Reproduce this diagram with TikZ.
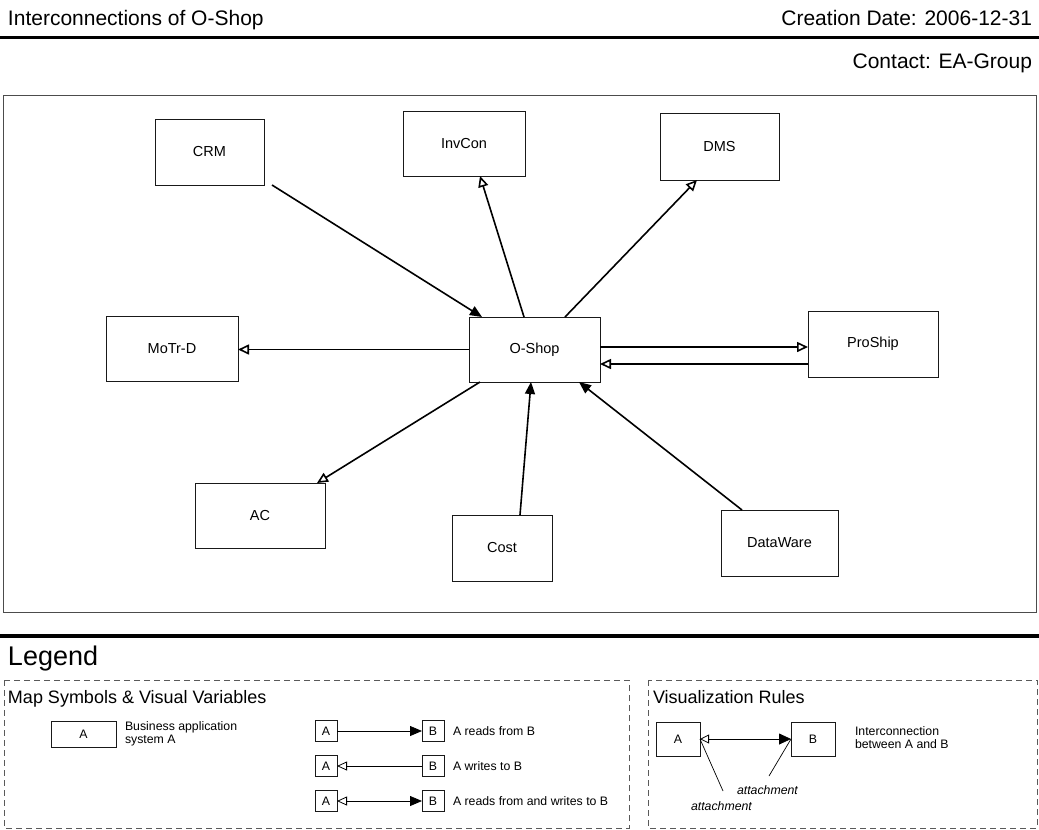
\documentclass[tikz,border=0pt]{standalone}
\usepackage{fontspec}
\setmainfont{Liberation Sans}
\usetikzlibrary{arrows.meta,calc}

\newcommand{\fs}[1]{\fontsize{#1}{#1}\selectfont}

\tikzset{
  sys/.style={draw=black!90, line width=0.8pt, fill=white, inner sep=0pt, outer sep=0pt,
              font=\fs{14.5}},
  lsys/.style={draw=black!90, line width=0.7pt, inner sep=0pt, outer sep=0pt, font=\fs{12.3}},
  conn/.style={line width=1.6pt, black},
  readsarrow/.style={conn, -{Triangle[length=12pt,width=10pt]}},
  writesarrow/.style={conn, -{Triangle[open,length=11pt,width=10pt]}},
  lconn/.style={line width=0.8pt, black},
  frame/.style={draw=black!70, line width=1pt},
  dashbox/.style={draw=black!65, line width=1pt, dash pattern=on 6pt off 4pt},
  txt/.style={inner sep=0pt, outer sep=0pt, anchor=base west},
}

\begin{document}
\begin{tikzpicture}[x=1pt, y=-1pt]
  \useasboundingbox (0,0) rectangle (1039,830);
  \fill[white] (0,0) rectangle (1039,830);

  % header
  \node[txt, font=\fs{21}] (title) at (8,25) {Interconnections of O-Shop};
  \node[txt, anchor=base east, font=\fs{21}] (date) at (1032,25) {Creation Date: 2006-12-31};
  \node[txt, anchor=base east, font=\fs{21}] (contact) at (1032,68) {Contact: EA-Group};
  \draw[line width=3pt] (0,37) -- (1039,37);

  % map frame
  \draw[frame] (3,95) rectangle (1036,612);

  % application systems
  \node[sys, minimum width=109, minimum height=66] (crm)      at (209.5,152)  {CRM};
  \node[sys, minimum width=122, minimum height=65] (invcon)   at (464,143.5)  {InvCon};
  \node[sys, minimum width=119, minimum height=67] (dms)      at (719.5,146.5){DMS};
  \node[sys, minimum width=132, minimum height=65] (motrd)    at (172,348.5)  {MoTr-D};
  \node[sys, minimum width=131, minimum height=65] (oshop)    at (534.5,349.5){O-Shop};
  \node[sys, minimum width=130, minimum height=66] (proship)  at (873,344)    {ProShip};
  \node[sys, minimum width=130, minimum height=65] (ac)       at (260,515.5)  {AC};
  \node[sys, minimum width=100, minimum height=66] (cost)     at (502,548)    {Cost};
  \node[sys, minimum width=117, minimum height=66] (dataware) at (779.5,543)  {DataWare};

  % interconnections
  \draw[readsarrow]  ([xshift=62.5pt]crm.south) -- ([xshift=13pt]oshop.north west);
  \draw[writesarrow] ([xshift=-10.5pt]oshop.north) -- ([xshift=16pt]invcon.south);
  \draw[writesarrow] ([xshift=30.5pt]oshop.north) -- ([xshift=-22.5pt]dms.south);
  \draw[writesarrow] (oshop.west) -- (oshop.west -| motrd.east);
  \draw[writesarrow] ([yshift=2.5pt]oshop.east) -- ([yshift=2.5pt]oshop.east -| proship.west);
  \draw[writesarrow] ([yshift=-14.5pt]oshop.east -| proship.west) -- ([yshift=-14.5pt]oshop.east);
  \draw[writesarrow] ([xshift=11pt]oshop.south west) -- ([xshift=-8pt]ac.north east);
  \draw[readsarrow]  ([xshift=18pt]cost.north) -- ([xshift=-3.5pt]oshop.south);
  \draw[readsarrow]  ([xshift=21pt]dataware.north west) -- ([xshift=-21pt]oshop.south east);

  % legend
  \draw[line width=4pt] (0,636) -- (1039,636);
  \node[txt, font=\fs{27}] (legend) at (8,665) {Legend};

  \draw[dashbox] (4,680) rectangle (629,828);
  \draw[dashbox] (648,680) rectangle (1037,828);

  \node[txt, font=\fs{18}] (symhead) at (8,703) {Map Symbols \& Visual Variables};
  \node[txt, font=\fs{18}] (rulehead) at (653,703) {Visualization Rules};

  % symbol: business application system
  \node[lsys, minimum width=65, minimum height=26] (la) at (83.5,734) {A};
  \node[txt, font=\fs{12.3}] (ltxt1) at (125,730) {Business application};
  \node[txt, font=\fs{12.3}] (ltxt2) at (125,743) {system A};

  % symbols: interconnection types
  \node[lsys, minimum width=22, minimum height=21] (ra1) at (326,731) {A};
  \node[lsys, minimum width=22, minimum height=21] (rb1) at (433,731) {B};
  \node[txt, font=\fs{12.3}] (rt1) at (453,735) {A reads from B};
  \draw[lconn, -{Triangle[length=12pt,width=10pt]}] (ra1) -- (rb1);

  \node[lsys, minimum width=22, minimum height=21] (ra2) at (326,766) {A};
  \node[lsys, minimum width=22, minimum height=21] (rb2) at (433,766) {B};
  \node[txt, font=\fs{12.3}] (rt2) at (453,770) {A writes to B};
  \draw[lconn, -{Triangle[open,length=10pt,width=9pt]}] (rb2) -- (ra2);

  \node[lsys, minimum width=22, minimum height=21] (ra3) at (326,801) {A};
  \node[lsys, minimum width=22, minimum height=21] (rb3) at (433,801) {B};
  \node[txt, font=\fs{12.3}] (rt3) at (453,805) {A reads from and writes to B};
  \draw[lconn, {Triangle[open,length=10pt,width=9pt]}-{Triangle[length=12pt,width=10pt]}] (ra3) -- (rb3);

  % visualization rules
  \node[lsys, minimum width=44, minimum height=34] (va) at (678,739) {A};
  \node[lsys, minimum width=44, minimum height=34] (vb) at (813,739) {B};
  \draw[lconn, {Triangle[open,length=9pt,width=9pt]}-{Triangle[length=12pt,width=11pt]}] (va) -- (vb);
  \node[txt, font=\fs{12.3}] (vt1) at (855,735) {Interconnection};
  \node[txt, font=\fs{12.3}] (vt2) at (855,748) {between A and B};
  \node[txt, font=\fs{12.3}\itshape] (att1) at (737,794) {attachment};
  \node[txt, font=\fs{12.3}\itshape] (att2) at (691,810) {attachment};
  \coordinate (p1) at (723,791);
  \coordinate (p2) at (769,776);
  \draw[line width=0.7pt] (p1) -- (va.east);
  \draw[line width=0.7pt] (p2) -- (vb.west);
\end{tikzpicture}
\end{document}
